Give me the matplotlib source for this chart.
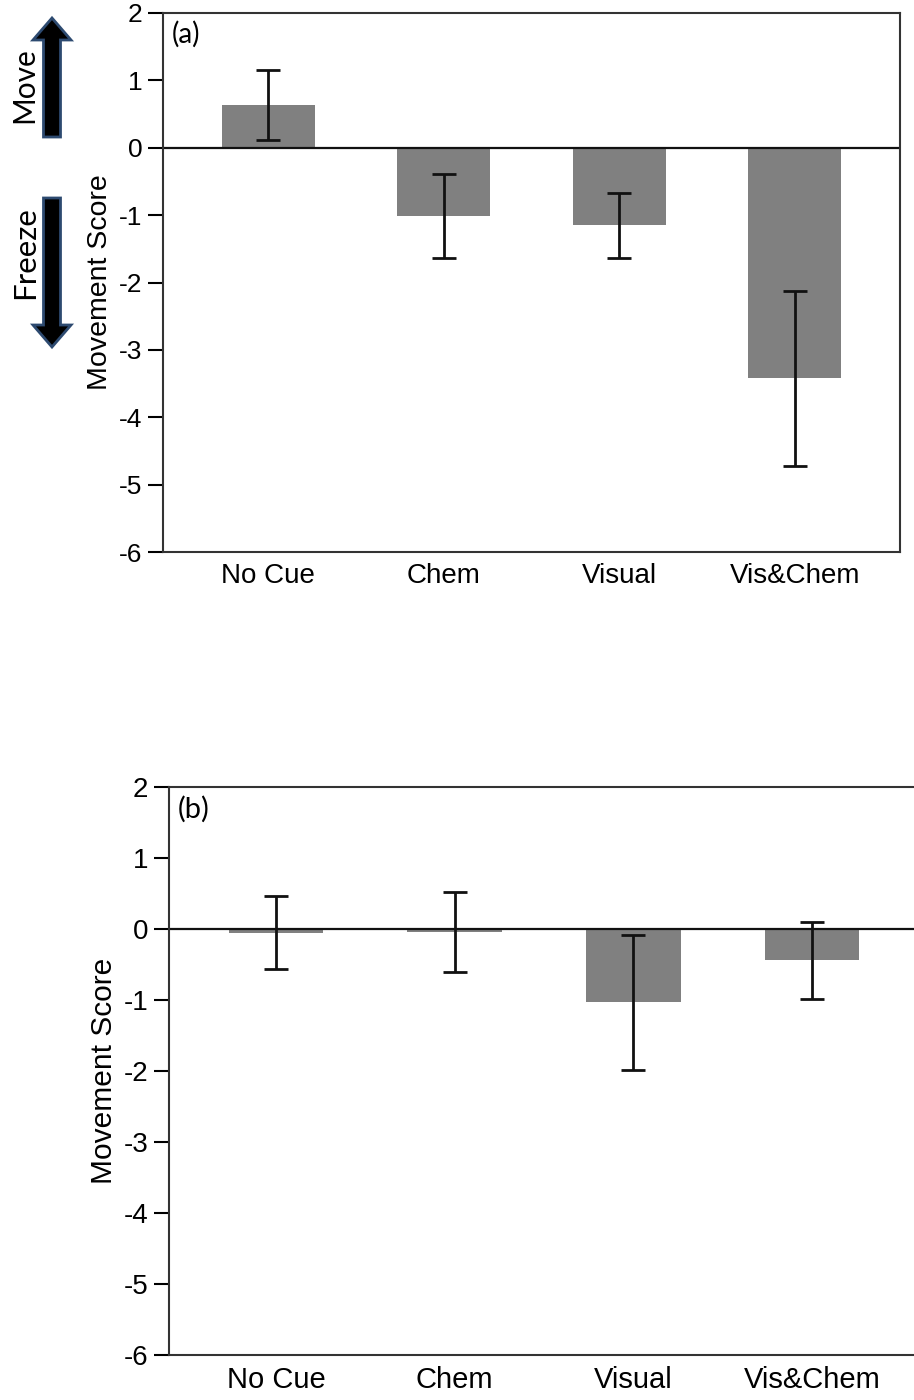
import numpy as np
import matplotlib.pyplot as plt
from matplotlib.patches import FancyArrow

# Categories and values
categories = ["No Cue", "Chem", "Visual", "Vis&Chem"]

# Panel (a)
means_a = [0.64, -1.01, -1.15, -3.42]
errs_a = [0.52, 0.62, 0.48, 1.30]

# Panel (b)
means_b = [-0.05, -0.04, -1.03, -0.44]
errs_b = [0.52, 0.56, 0.95, 0.54]

yticks = [-6, -5, -4, -3, -2, -1, 0, 1, 2]

tick_font = ["Liberation Sans", "DejaVu Sans"]
panel_font = ["Lato", "DejaVu Sans"]

fig = plt.figure(figsize=(9.14, 14), dpi=100)

ax_a = fig.add_axes([163 / 914, 1 - 552 / 1400, (900 - 163) / 914, (552 - 13) / 1400])
ax_b = fig.add_axes([169 / 914, 1 - 1355 / 1400, 750 / 914, (1355 - 787) / 1400])


def draw_panel(ax, means, errs, tag, yfs=19, xfs=20, lab_fs=20.5, tag_fs=20):
    x = np.arange(len(categories))
    ax.bar(x, means, width=0.53, color="#808080", zorder=2)
    ax.errorbar(x, means, yerr=errs, fmt="none", ecolor="#111111",
                elinewidth=2, capsize=8.5, capthick=2, zorder=3)
    ax.axhline(0, color="#111111", lw=1.6, zorder=2.5)
    ax.set_xlim(-0.6, 3.6)
    ax.set_ylim(-6, 2)
    ax.set_yticks(yticks)
    ax.set_yticklabels([str(t) for t in yticks], family=tick_font, fontsize=yfs)
    ax.set_xticks(x)
    ax.set_xticklabels(categories, family=tick_font, fontsize=xfs)
    ax.tick_params(axis="y", direction="out", length=11, width=1.5, pad=4)
    ax.tick_params(axis="x", length=0, pad=8)
    for s in ax.spines.values():
        s.set_linewidth(1.5)
        s.set_color("#333333")
    ax.set_ylabel("Movement Score", family=tick_font, fontsize=lab_fs, labelpad=4)
    ax.text(0.012, 0.985, tag, transform=ax.transAxes, ha="left", va="top",
            family=panel_font, fontsize=tag_fs)


draw_panel(ax_a, means_a, errs_a, "(a)")
draw_panel(ax_b, means_b, errs_b, "(b)", yfs=20, xfs=21, lab_fs=21.5, tag_fs=21)
ax_b.spines["right"].set_visible(False)

# Move / Freeze arrows in an overlay using pixel coordinates
ov = fig.add_axes([0, 0, 1, 1], zorder=5)
ov.set_xlim(0, 914)
ov.set_ylim(1400, 0)
ov.axis("off")
ov.patch.set_alpha(0)

arrow_kw = dict(width=17, head_width=38, head_length=22, length_includes_head=True,
                facecolor="black", edgecolor="#2d4a70", linewidth=2)
ov.add_patch(FancyArrow(52, 137, 0, -119, **arrow_kw))
ov.add_patch(FancyArrow(52, 198, 0, 149, **arrow_kw))

ov.text(24, 85, "Move", rotation=90, ha="center", va="center",
        family=panel_font, fontsize=21.5)
ov.text(25, 253, "Freeze", rotation=90, ha="center", va="center",
        family=panel_font, fontsize=22.5)

fig.savefig("out.png", dpi=100)
